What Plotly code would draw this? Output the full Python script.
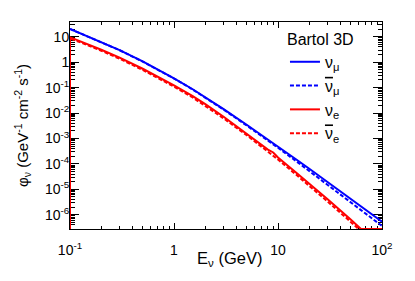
import numpy as np
import plotly.graph_objects as go

# Neutrino energy (GeV)
energy = [0.1, 0.2, 0.3, 0.5, 0.7, 1, 1.5, 2, 3, 5, 7, 8, 9, 10, 15, 20, 30, 50, 70, 100]

# Fluxes (GeV^-1 cm^-2 s^-1)
flux_numu = [20.4, 6.31, 2.99, 1.07, 0.521, 0.233, 0.0883, 0.0427, 0.0143, 3.45e-3,
             1.34e-3, 9.12e-4, 6.53e-4, 4.83e-4, 1.49e-4, 6.44e-5, 1.95e-5, 4.27e-6, 1.57e-6, 5.37e-7]
flux_numubar = [20.2, 6.24, 2.95, 1.05, 0.509, 0.228, 0.0859, 0.0412, 0.01365, 3.22e-3,
                1.23e-3, 8.32e-4, 5.89e-4, 4.31e-4, 1.27e-4, 5.24e-5, 1.51e-5, 3.09e-6, 1.10e-6, 3.63e-7]
flux_nue = [9.55, 3.09, 1.50, 0.551, 0.274, 0.122, 0.0474, 0.0224, 7.16e-3, 1.58e-3,
            5.57e-4, 3.63e-4, 2.82e-4, 1.79e-4, 4.51e-5, 1.69e-5, 4.07e-6, 6.46e-7, 1.84e-7, 5.0e-8]
flux_nuebar = [8.71, 2.82, 1.36, 0.497, 0.244, 0.109, 0.0418, 0.0195, 6.17e-3, 1.34e-3,
               4.69e-4, 3.07e-4, 2.17e-4, 1.49e-4, 3.71e-5, 1.38e-5, 3.31e-6, 5.25e-7, 1.50e-7, 4.07e-8]

# Axis ranges (log10)
X_RANGE = [-1, 2]
Y_RANGE = [-6.56, 1.58]

x_tickvals = [0.1, 1, 10, 100]
x_ticktext = ["10<sup>-1</sup>", "1", "10", "10<sup>2</sup>"]
y_tickvals = [1e-6, 1e-5, 1e-4, 1e-3, 1e-2, 1e-1, 1, 10]
y_ticktext = ["10<sup>-6</sup>", "10<sup>-5</sup>", "10<sup>-4</sup>", "10<sup>-3</sup>",
              "10<sup>-2</sup>", "10<sup>-1</sup>", "1", "10"]

X_TITLE = "E<sub>ν</sub> (GeV)"
Y_TITLE = "φ<sub>ν</sub> (GeV<sup>-1</sup> cm<sup>-2</sup> s<sup>-1</sup>)"
LEGEND_TITLE = "Bartol 3D"

BLUE = "#0000ff"
RED = "#ff0000"


def minor_ticks(lo_exp, hi_exp):
    return [m * 10.0 ** e for e in range(lo_exp, hi_exp + 1) for m in range(2, 10)]


def floor_clip(xs, ys, floor, start_from_floor=False):
    """Values under the frame floor are drawn along the floor (ROOT style)."""
    lx = np.log10(np.asarray(xs, float))
    ly = np.log10(np.asarray(ys, float))
    lf = np.log10(floor)
    ox, oy = [], []
    if start_from_floor:
        ox.append(lx[0]); oy.append(lf)
    for i in range(len(lx)):
        if i > 0 and (ly[i - 1] - lf) * (ly[i] - lf) < 0:
            t = (lf - ly[i - 1]) / (ly[i] - ly[i - 1])
            ox.append(lx[i - 1] + t * (lx[i] - lx[i - 1])); oy.append(lf)
        ox.append(lx[i]); oy.append(max(ly[i], lf))
    return 10 ** np.array(ox), 10 ** np.array(oy)


floor = 10 ** Y_RANGE[0]
BAR = "<span style='text-decoration:overline'>ν</span>"

series = [
    ("ν<sub>μ</sub>", flux_numu, BLUE, "solid", False),
    (BAR + "<sub>μ</sub>", flux_numubar, BLUE, "4px,2px", False),
    ("ν<sub>e</sub>", flux_nue, RED, "solid", True),
    (BAR + "<sub>e</sub>", flux_nuebar, RED, "4px,2px", True),
]

fig = go.Figure()
for name, vals, color, dash, from_floor in series:
    xs, ys = floor_clip(energy, vals, floor, start_from_floor=from_floor)
    fig.add_trace(go.Scatter(
        x=xs, y=ys, mode="lines", name=name,
        line=dict(color=color, width=2, dash=dash),
    ))

FONT = "Liberation Sans, Arial, Helvetica, sans-serif"

# The page body keeps the browser's 8px margin, so the figure is offset by 8px;
# size and margins compensate so the frame lands where the reference has it.
fig.update_layout(
    width=407, height=273,
    margin=dict(l=62, r=33, t=14, b=52),
    paper_bgcolor="white", plot_bgcolor="white",
    font=dict(family=FONT, color="black", size=14),
    showlegend=True,
    legend=dict(
        x=0.689, y=0.99, xanchor="left", yanchor="top",
        bgcolor="rgba(0,0,0,0)", borderwidth=0,
        font=dict(family=FONT, size=16, color="black"),
        title=dict(text=LEGEND_TITLE, font=dict(family=FONT, size=16, color="black")),
    ),
    annotations=[dict(
        text=X_TITLE, xref="paper", yref="paper", x=0.51, y=0,
        xanchor="center", yanchor="middle", yshift=-30, showarrow=False,
        font=dict(family=FONT, size=16.5, color="black"),
    )],
)

fig.update_xaxes(
    type="log", range=X_RANGE,
    showline=True, linecolor="black", linewidth=1, mirror="ticks",
    showgrid=False, zeroline=False,
    ticks="inside", ticklen=6, tickcolor="black", tickwidth=1,
    tickmode="array", tickvals=x_tickvals, ticktext=x_ticktext,
    ticklabelstandoff=8,
    minor=dict(ticks="inside", ticklen=3, tickcolor="black",
               tickvals=minor_ticks(-1, 1), showgrid=False),
    layer="below traces",
)
fig.update_yaxes(
    type="log", range=Y_RANGE,
    showline=True, linecolor="black", linewidth=1, mirror="ticks",
    showgrid=False, zeroline=False,
    ticks="inside", ticklen=9, tickcolor="black", tickwidth=1,
    tickmode="array", tickvals=y_tickvals, ticktext=y_ticktext,
    ticklabelstandoff=-3,
    minor=dict(ticks="inside", ticklen=4.5, tickcolor="black",
               tickvals=minor_ticks(-7, 1), showgrid=False),
    title=dict(text=Y_TITLE, font=dict(family=FONT, size=15), standoff=12),
    layer="below traces",
)

fig.write_html("out.html")
